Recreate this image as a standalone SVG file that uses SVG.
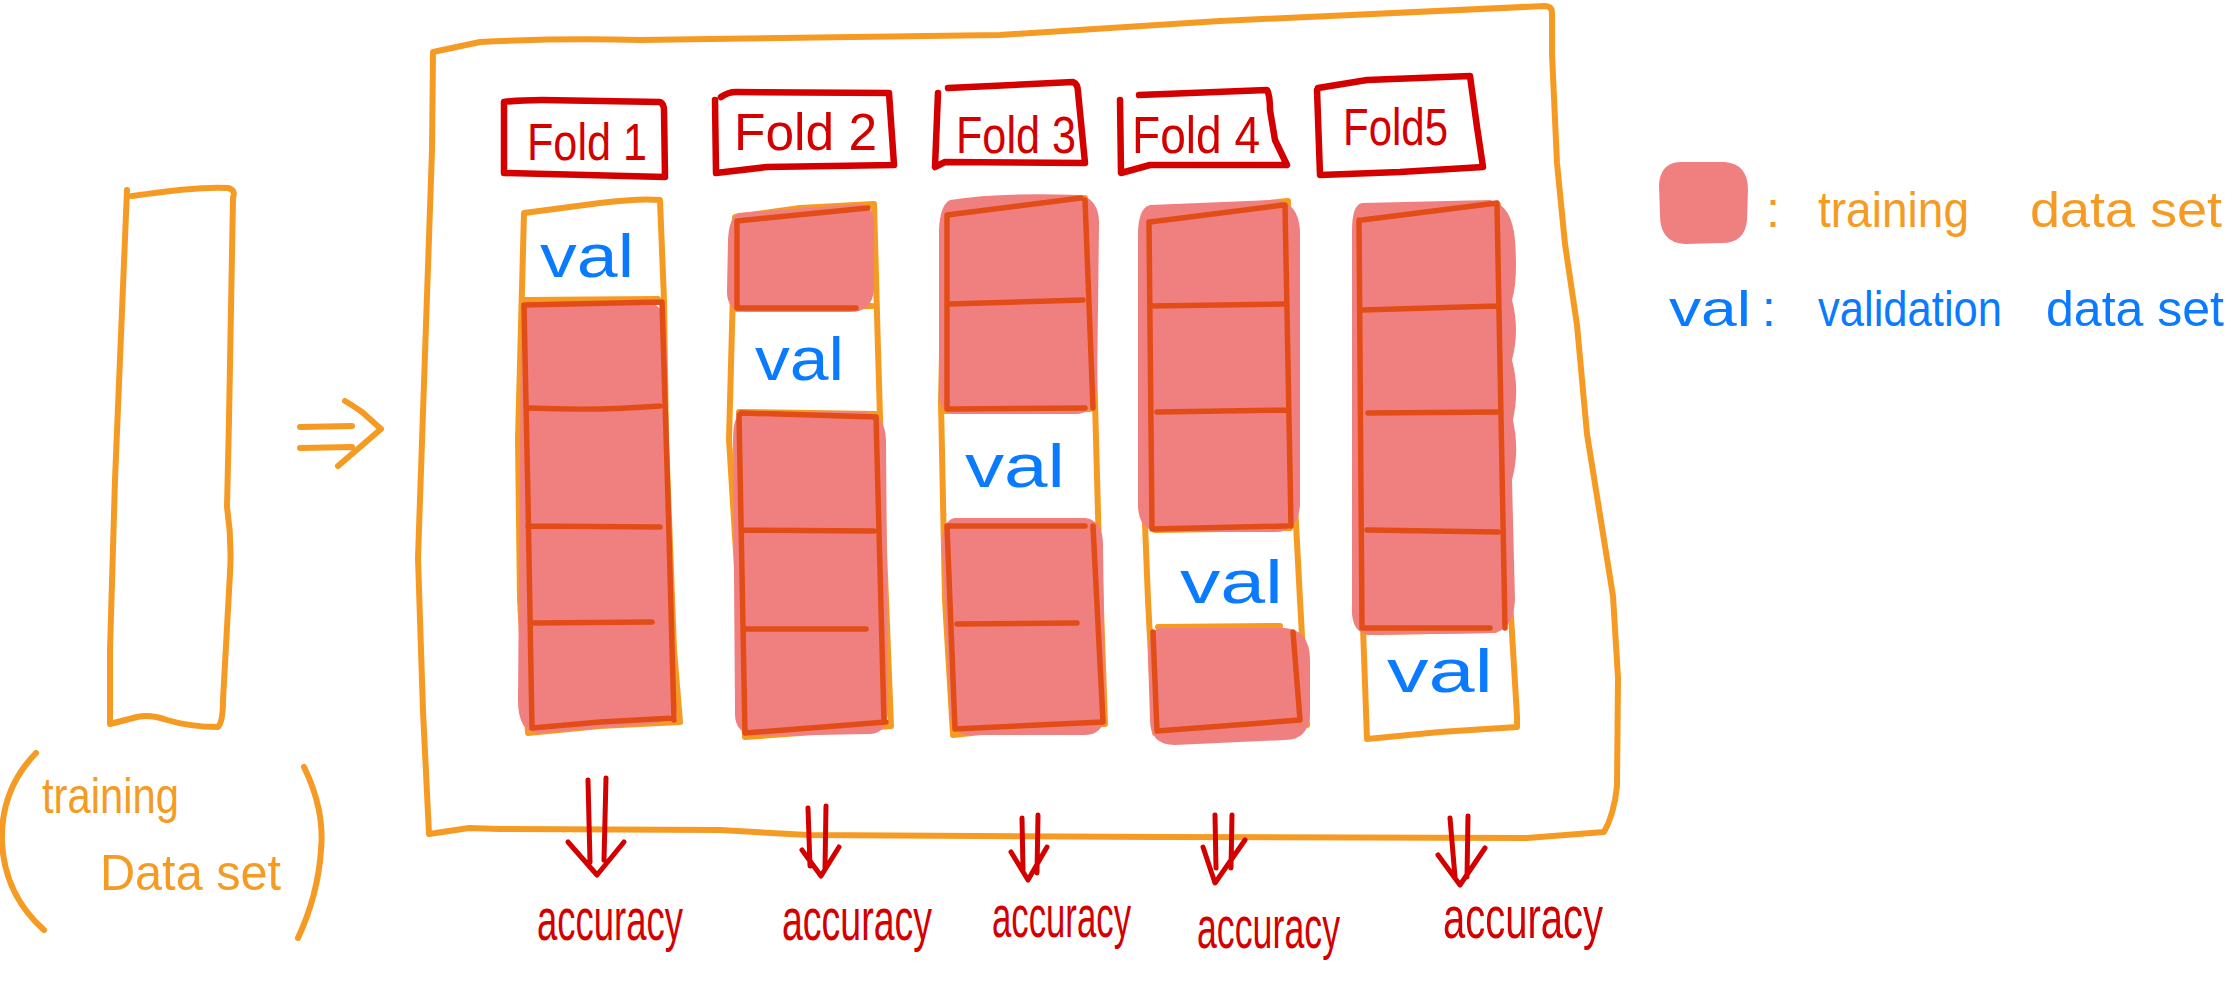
<svg xmlns="http://www.w3.org/2000/svg" width="2233" height="1000" viewBox="0 0 2233 1000">
<style>
.o{fill:none;stroke:#F59B24;stroke-width:6;stroke-linecap:round;stroke-linejoin:round}
.r{fill:none;stroke:#D40000;stroke-width:6.5;stroke-linecap:round;stroke-linejoin:round}
.ro{fill:none;stroke:#E24D17;stroke-width:5.5;stroke-linecap:round;stroke-linejoin:round}
.pk{fill:#F08080;stroke:none}
.t{font-family:"Liberation Sans","DejaVu Sans",sans-serif}
.tr{fill:#D40000}
.tb{fill:#0A7BFF}
.to{fill:#F59B24}
.ar{fill:none;stroke:#D40000;stroke-width:5;stroke-linecap:round;stroke-linejoin:round}
</style>
<rect width="2233" height="1000" fill="#fff"/>

<g id="training-set">
<path class="o" d="M132 196 Q200 186 228 188 Q236 190 233 198 L229 420 L227 507 Q232 540 230 573 L223 700 Q223 722 218 727 Q190 727 167 720 Q150 714 137 717 L110 724 L110 650 L115 480 L127 190"/>
<path class="o" d="M36 753 Q0 790 2 843 Q5 895 44 930"/>
<path class="o" d="M304 767 Q325 810 321 850 Q318 895 298 938"/>
<text class="t to" x="42" y="813" font-size="50" textLength="137" lengthAdjust="spacingAndGlyphs">training</text>
<text class="t to" x="100" y="890" font-size="50" textLength="181" lengthAdjust="spacingAndGlyphs">Data set</text>
</g>

<g id="outer-box">
<path class="o" d="M433 52 L480 42 Q560 38 640 40 L1000 35 L1220 21 L1545 6 Q1552 6 1552 13 L1552 54 L1557 163 L1565 244 L1577 325 L1587 434 L1600 515 L1613 596 L1618 678 L1617 786 Q1614 815 1604 832 L1527 838 L1160 837 L808 835 L720 830 L500 829 L469 828 L429 834 L423 711 L418 558 L425 354 L432 150 Z"/>
</g>

<g id="fold1">
<path class="r" d="M504 102 Q520 100 542 100 L660 102 Q664 104 664 110 L665 177 L504 173 L504 102 Z"/>
<text class="t tr" x="527" y="160" font-size="52" textLength="120" lengthAdjust="spacingAndGlyphs">Fold 1</text>
</g>
<g id="fold2">
<path class="r" d="M721 97 Q728 92 736 92 L889 93 L894 165 L767 167 L716 173 L715 100"/>
<text class="t tr" x="734" y="150" font-size="52" textLength="143" lengthAdjust="spacingAndGlyphs">Fold 2</text>
</g>
<g id="fold3">
<path class="r" d="M948 88 L1073 82 Q1078 84 1078 92 L1085 163 L945 162 L935 167 L938 93"/>
<text class="t tr" x="956" y="153" font-size="52" textLength="120" lengthAdjust="spacingAndGlyphs">Fold 3</text>
</g>
<g id="fold4">
<path class="r" d="M1139 95 L1267 90 Q1270 95 1270 110 L1275 140 L1287 165 L1150 165 L1121 173 L1120 100"/>
<text class="t tr" x="1132" y="153" font-size="52" textLength="128" lengthAdjust="spacingAndGlyphs">Fold 4</text>
</g>
<g id="fold5">
<path class="r" d="M1318 88 L1367 80 L1470 76 L1477 127 L1483 167 L1400 172 L1320 175 L1317 90"/>
<text class="t tr" x="1343" y="145" font-size="52" textLength="105" lengthAdjust="spacingAndGlyphs">Fold5</text>
</g>

<g id="col1">
<path class="o" d="M524 213 L600 203 Q640 198 660 200 L664 300 L666 439 L674 650 L680 722 L600 726 L528 733 L520 600 L518 439 L524 213 Z"/>
<path class="o" d="M524 300 L658 299"/>
<path class="pk" d="M530 304 Q520 306 521 330 L518 700 Q518 734 540 733 L650 724 Q676 722 675 700 L666 330 Q666 303 645 302 Z"/>
<path class="ro" d="M524 305 L662 302 M524 306 L528 500 L532 728 L600 722 L674 718 M662 302 L668 500 L674 720 M530 408 Q600 411 660 406 M528 526 L660 527 M532 623 L652 622"/>
<text class="t tb" x="540" y="277" font-size="62" textLength="94" lengthAdjust="spacingAndGlyphs">val</text>
</g>

<g id="col2">
<path class="o" d="M735 217 L800 208 L874 204 L878 350 L884 550 L891 726 L800 733 L745 737 L739 600 L729 439 L735 217 Z"/>
<path class="o" d="M737 309 L872 306 M739 412 L876 414"/>
<path class="pk" d="M738 213 L860 204 Q876 206 874 230 L874 290 Q872 312 850 312 L745 312 Q726 310 727 290 L728 240 Q729 218 738 213 Z"/>
<path class="pk" d="M745 411 L865 412 Q885 414 886 440 L888 710 Q888 733 870 734 L760 736 Q734 736 735 712 L733 440 Q733 412 745 411 Z"/>
<path class="ro" d="M737 221 L868 208 M737 221 L737 308 L856 308 M741 413 L876 417 M739 415 L745 733 L886 722 M876 417 L884 722 M741 530 L874 531 M745 629 L866 629"/>
<text class="t tb" x="755" y="380" font-size="62" textLength="89" lengthAdjust="spacingAndGlyphs">val</text>
</g>

<g id="col3">
<path class="o" d="M945 213 L1010 205 L1085 198 L1093 328 L1099 550 L1105 724 L1000 730 L953 735 L945 600 L941 402 L945 213 Z"/>
<path class="o" d="M945 411 L1090 409 M945 526 L1093 526"/>
<path class="pk" d="M950 200 Q1000 192 1080 195 Q1100 200 1099 225 L1097 390 Q1095 414 1075 414 L955 414 Q938 412 939 390 L939 230 Q940 205 950 200 Z"/>
<path class="pk" d="M955 518 L1085 518 Q1103 520 1103 545 L1105 710 Q1105 735 1085 735 L970 735 Q950 735 950 712 L942 545 Q942 520 955 518 Z"/>
<path class="ro" d="M947 215 L1081 198 M947 215 L947 409 L1085 408 M1085 200 L1093 408 M949 304 L1083 300 M947 526 L1085 526 M947 526 L955 729 L1103 722 M1093 526 L1103 722 M957 624 L1077 623"/>
<text class="t tb" x="965" y="487" font-size="62" textLength="100" lengthAdjust="spacingAndGlyphs">val</text>
</g>

<g id="col4">
<path class="o" d="M1148 216 L1220 208 L1288 201 L1290 330 L1292 448 L1300 600 L1307 725 L1220 728 L1155 733 L1148 600 L1142 448 L1148 216 Z"/>
<path class="o" d="M1155 530 L1290 528 M1158 627 L1280 626"/>
<path class="pk" d="M1150 205 L1275 200 Q1298 202 1300 230 L1300 505 Q1298 532 1275 532 L1160 532 Q1138 530 1138 505 L1138 235 Q1138 208 1150 205 Z"/>
<path class="pk" d="M1160 628 L1285 628 Q1310 630 1310 660 L1310 715 Q1308 740 1285 740 L1175 745 Q1150 745 1150 720 L1148 655 Q1148 630 1160 628 Z"/>
<path class="ro" d="M1150 222 L1283 205 M1149 222 L1152 529 L1287 526 M1285 205 L1291 526 M1150 306 L1283 304 M1157 412 L1287 410 M1153 632 L1157 731 L1300 720 M1293 632 L1300 720"/>
<text class="t tb" x="1180" y="603" font-size="62" textLength="103" lengthAdjust="spacingAndGlyphs">val</text>
</g>

<g id="col5">
<path class="o" d="M1360 218 L1430 210 L1498 205 L1500 350 L1503 410 L1510 600 L1517 716 L1517 727 L1440 732 L1367 739 L1362 600 L1357 448 L1360 218 Z"/>
<path class="o" d="M1368 632 L1495 630"/>
<path class="pk" d="M1362 203 L1490 200 Q1512 205 1515 240 Q1518 280 1512 300 Q1520 330 1512 360 Q1520 390 1513 420 Q1520 450 1512 480 L1515 600 Q1513 633 1490 633 L1370 635 Q1350 633 1352 605 L1352 230 Q1352 205 1362 203 Z"/>
<path class="ro" d="M1362 220 L1497 203 M1359 220 L1362 628 L1490 628 M1497 205 L1505 628 M1362 310 L1497 306 M1368 413 L1498 412 M1367 530 L1498 532"/>
<text class="t tb" x="1387" y="692" font-size="62" textLength="106" lengthAdjust="spacingAndGlyphs">val</text>
</g>

<g id="legend">
<path class="pk" d="M1680 162 L1725 162 Q1748 164 1748 190 L1747 220 Q1745 244 1720 243 L1685 244 Q1660 243 1660 215 L1659 185 Q1660 163 1680 162 Z"/>
<text class="t to" y="227" font-size="50"><tspan x="1766">:</tspan><tspan x="1818" textLength="151" lengthAdjust="spacingAndGlyphs">training</tspan><tspan x="2030" textLength="192" lengthAdjust="spacingAndGlyphs">data set</tspan></text>
<text class="t tb" y="326" font-size="50"><tspan x="1669" textLength="82" lengthAdjust="spacingAndGlyphs">val</tspan><tspan x="1762">:</tspan><tspan x="1818" textLength="184" lengthAdjust="spacingAndGlyphs">validation</tspan><tspan x="2046" textLength="178" lengthAdjust="spacingAndGlyphs">data set</tspan></text>
</g>

<g id="arrow-main">
<path class="o" d="M300 427 L352 426 M300 448 L352 447 M345 401 Q352 405 362 412 L381 429 L338 466"/>
</g>

<g id="connectors">
<path class="ar" d="M588 780 L590 862 M606 778 L604 860 M568 842 L597 875 L624 842"/>
<path class="ar" d="M808 808 L810 866 M826 806 L825 868 M802 850 L821 876 L839 847"/>
<path class="ar" d="M1022 818 L1023 870 M1038 815 L1037 873 M1011 852 L1028 880 L1047 847"/>
<path class="ar" d="M1215 815 L1216 868 M1232 815 L1231 868 M1203 847 L1215 883 L1245 840"/>
<path class="ar" d="M1450 818 L1455 877 M1468 816 L1467 877 M1438 855 L1460 885 L1485 848"/>
</g>

<g id="acc1"><text class="t tr" transform="translate(537 940) scale(1 1.5)" font-size="40" textLength="146" lengthAdjust="spacingAndGlyphs">accuracy</text></g>
<g id="acc2"><text class="t tr" transform="translate(782 940) scale(1 1.5)" font-size="40" textLength="150" lengthAdjust="spacingAndGlyphs">accuracy</text></g>
<g id="acc3"><text class="t tr" transform="translate(992 937) scale(1 1.5)" font-size="40" textLength="139" lengthAdjust="spacingAndGlyphs">accuracy</text></g>
<g id="acc4"><text class="t tr" transform="translate(1197 948) scale(1 1.5)" font-size="40" textLength="143" lengthAdjust="spacingAndGlyphs">accuracy</text></g>
<g id="acc5"><text class="t tr" transform="translate(1443 938) scale(1 1.5)" font-size="40" textLength="160" lengthAdjust="spacingAndGlyphs">accuracy</text></g>
</svg>
